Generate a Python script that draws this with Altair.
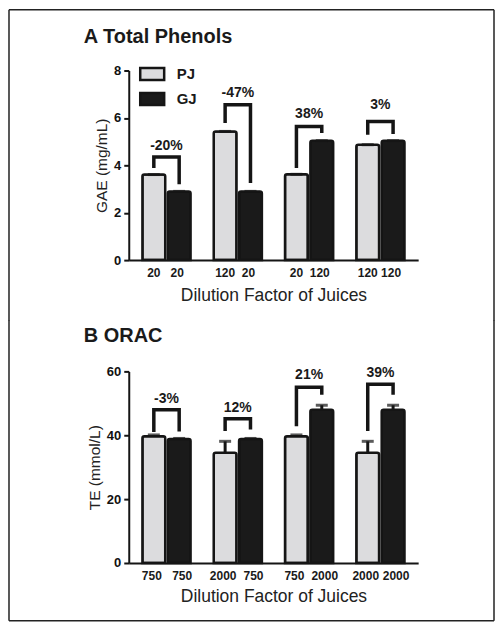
import altair as alt
import pandas as pd

FONT = "Liberation Sans"
INK = "#151515"

groups = ["1", "2", "3", "4"]
juices = ["PJ", "GJ"]

# Panel A: Total Phenols (GAE, mg/mL)
a_pj_dil = ["20", "120", "20", "120"]
a_gj_dil = ["20", "20", "120", "120"]
a_pj = [3.61, 5.43, 3.62, 4.87]
a_gj = [2.90, 2.90, 5.04, 5.04]
a_pj_up = [3.61, 5.43, 3.62, 4.87]
a_gj_up = [2.90, 2.90, 5.04, 5.04]
a_pct = ["-20%", "-47%", "38%", "3%"]
a_pct_y = [4.80, 7.04, 6.16, 6.55]
a_br_top = [4.35, 6.56, 5.64, 5.85]
a_br_pj = [3.89, 5.78, 3.89, 5.29]
a_br_gj = [3.20, 3.25, 5.36, 5.32]

# Panel B: ORAC (TE, mmol/L)
b_pj_dil = ["750", "2000", "750", "2000"]
b_gj_dil = ["750", "750", "2000", "2000"]
b_pj = [39.7, 34.5, 39.7, 34.5]
b_gj = [38.8, 38.8, 48.0, 48.0]
b_pj_up = [40.1, 38.1, 40.1, 38.1]
b_gj_up = [39.0, 39.0, 49.4, 49.4]
b_pct = ["-3%", "12%", "21%", "39%"]
b_pct_y = [51.2, 48.4, 59.0, 59.5]
b_br_top = [48.0, 45.2, 55.0, 56.0]
b_br_pj = [41.0, 41.3, 42.8, 41.3]
b_br_gj = [41.2, 41.8, 52.7, 52.7]


def bars_frame(pj, gj, pj_up, gj_up, pj_dil, gj_dil):
    rows = []
    for i, g in enumerate(groups):
        rows.append({"grp": g, "juice": "PJ", "value": pj[i], "upper": pj_up[i], "dil": pj_dil[i]})
        rows.append({"grp": g, "juice": "GJ", "value": gj[i], "upper": gj_up[i], "dil": gj_dil[i]})
    return pd.DataFrame(rows)


def bracket_frame(top, leg_pj, leg_gj):
    rows = []
    for i, g in enumerate(groups):
        rows += [
            {"grp": g, "juice": "PJ", "ord": 0, "y": leg_pj[i]},
            {"grp": g, "juice": "PJ", "ord": 1, "y": top[i]},
            {"grp": g, "juice": "GJ", "ord": 2, "y": top[i]},
            {"grp": g, "juice": "GJ", "ord": 3, "y": leg_gj[i]},
        ]
    return pd.DataFrame(rows)


def pct_frame(labels, ys):
    return pd.DataFrame({"grp": groups, "label": labels, "y": ys})


one = pd.DataFrame({"k": [0]})


def panel(bars, br, pct, ytitle, ymax, yticks, title, legend, is_top, x_title_pad, dx_pj, dx_gj):
    xs = alt.X("grp:N", sort=groups,
               scale=alt.Scale(paddingInner=0.3245, paddingOuter=0.1916),
               axis=alt.Axis(title="Dilution Factor of Juices", labels=False, ticks=False,
                             domainColor=INK, domainWidth=2, titleFont=FONT,
                             titleFontSize=17.5, titleFontWeight="normal", titleColor="#222",
                             titlePadding=x_title_pad))
    xo = alt.XOffset("juice:N", sort=juices, scale=alt.Scale(domain=juices, paddingInner=0.1, paddingOuter=0))
    xg = alt.X("grp:N", sort=groups)
    xog = alt.XOffset("juice:N", sort=juices)
    yscale = alt.Scale(domain=[0, ymax], nice=False)
    yax = alt.Axis(title=ytitle, values=yticks, grid=False, tickSize=5, tickWidth=2, tickColor=INK,
                   domainColor=INK, domainWidth=2, labelFont=FONT, labelFontSize=13,
                   labelFontWeight="bold", labelColor="#111", labelPadding=3,
                   titleFont=FONT, titleFontSize=15.5, titleFontWeight="normal", titleColor="#222",
                   titlePadding=4)

    fill = alt.Fill("juice:N", sort=juices,
                    scale=alt.Scale(domain=juices, range=["#dcdcde", "#1a1a1a"]),
                    legend=legend)

    bar_layer = alt.Chart(bars).mark_bar(stroke=INK, strokeWidth=2.5,
                                         cornerRadiusTopLeft=2, cornerRadiusTopRight=2).encode(
        x=xs, xOffset=xo, y=alt.Y("value:Q", scale=yscale, axis=yax), fill=fill)

    err = alt.Chart(bars).mark_rule(color=INK, strokeWidth=3).encode(
        x=xg, xOffset=xog, y="value:Q", y2="upper:Q")
    cap = alt.Chart(bars).mark_tick(color=INK, thickness=3, size=12).encode(
        x=xg, xOffset=xog, y="upper:Q")

    brk = alt.Chart(br).mark_line(color=INK, strokeWidth=3.5, strokeJoin="miter", strokeCap="butt").encode(
        x=xg, xOffset=xog, y="y:Q", detail="grp:N", order="ord:Q")

    pct_t = alt.Chart(pct).mark_text(font=FONT, fontSize=14, fontWeight="bold", color="#1a1a1a",
                                     baseline="middle").encode(
        x=xg, y="y:Q", text="label:N")

    dil_pj = alt.Chart(bars).transform_filter(alt.datum.juice == "PJ").mark_text(
        font=FONT, fontSize=12, fontWeight="bold", color="#1a1a1a",
        baseline="middle", dy=13, dx=dx_pj).encode(
        x=xg, xOffset=xog, y=alt.datum(0), text="dil:N")
    dil_gj = alt.Chart(bars).transform_filter(alt.datum.juice == "GJ").mark_text(
        font=FONT, fontSize=12, fontWeight="bold", color="#1a1a1a",
        baseline="middle", dy=13, dx=dx_gj).encode(
        x=xg, xOffset=xog, y=alt.datum(0), text="dil:N")

    title_t = alt.Chart(one).mark_text(text=title, font=FONT, fontSize=20, fontWeight="bold",
                                       color="#1a1a1a", align="left", baseline="middle").encode(
        x=alt.value(-45), y=alt.value(-34 if is_top else -35))

    fr = dict(color="#222", strokeWidth=1.5)
    if is_top:
        y_top, y_bot = -61, 251
    else:
        y_top, y_bot = -51, 250
    left = alt.Chart(one).mark_rule(**fr).encode(x=alt.value(-120), y=alt.value(y_top), y2=alt.value(y_bot))
    right = alt.Chart(one).mark_rule(**fr).encode(x=alt.value(366), y=alt.value(y_top), y2=alt.value(y_bot))
    if is_top:
        edge = alt.Chart(one).mark_rule(**fr).encode(x=alt.value(-120), x2=alt.value(366), y=alt.value(-61))
    else:
        edge = alt.Chart(one).mark_rule(**fr).encode(x=alt.value(-120), x2=alt.value(366), y=alt.value(250))

    h = 190 if is_top else 192
    return alt.layer(bar_layer, err, cap, brk, pct_t, dil_pj, dil_gj, title_t, left, right, edge).properties(
        width=290, height=h)


legend_a = alt.Legend(title=None, orient="none", legendX=12, legendY=-8,
                      symbolType="M-1.2,-0.6H1.2V0.6H-1.2Z", symbolSize=400,
                      symbolStrokeColor=INK, symbolStrokeWidth=2.5, symbolOpacity=1,
                      labelFont=FONT, labelFontSize=15, labelFontWeight="bold", labelColor="#1a1a1a",
                      labelOffset=13, rowPadding=2)

panel_a = panel(bars_frame(a_pj, a_gj, a_pj_up, a_gj_up, a_pj_dil, a_gj_dil),
                bracket_frame(a_br_top, a_br_pj, a_br_gj),
                pct_frame(a_pct, a_pct_y),
                "GAE (mg/mL)", 8, [0, 2, 4, 6, 8], "A Total Phenols", legend_a, True, 26, 0, -2)

panel_b = panel(bars_frame(b_pj, b_gj, b_pj_up, b_gj_up, b_pj_dil, b_gj_dil),
                bracket_frame(b_br_top, b_br_pj, b_br_gj),
                pct_frame(b_pct, b_pct_y),
                "TE (mmol/L)", 60, [0, 20, 40, 60], "B ORAC", None, False, 25, -2, 3)

chart = alt.vconcat(panel_a, panel_b, spacing=-2.5).resolve_legend(fill="independent").configure_view(
    stroke=None).properties(padding=0, background="white")

chart.save("out.html", embed_options={"renderer": "svg", "actions": False})
